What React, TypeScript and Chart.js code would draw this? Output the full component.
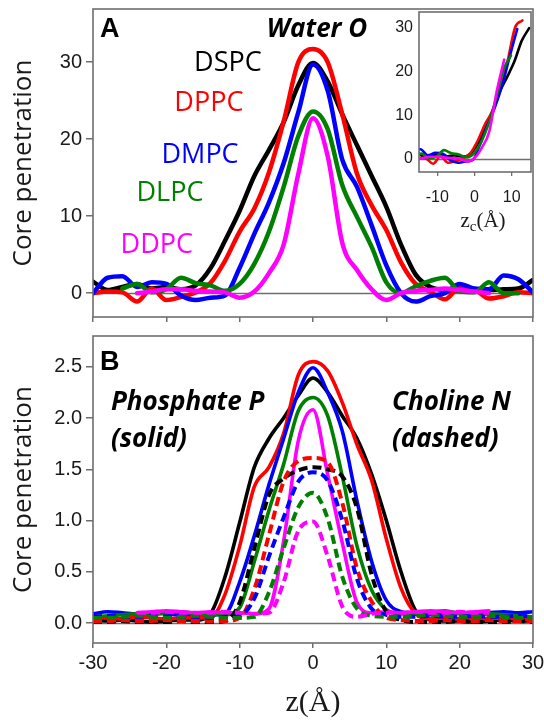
import React, { useEffect, useRef } from "react";
import { Chart, registerables } from "chart.js";

Chart.register(...registerables);

// Depth grid along the bilayer normal, z in Å
const zValues = [-30, -28, -26, -24, -22, -20, -18, -16, -14, -12, -10, -8, -6, -4, -2, 0, 2, 4, 6, 8, 10, 12, 14, 16, 18, 20, 22, 24, 26, 28, 30];

const lipids = ["DSPC", "DPPC", "DMPC", "DLPC", "DDPC"];
const lipidColors = ["#000000", "#ff0000", "#0000ff", "#008000", "#ff00ff"];

// Panel A: water oxygen core penetration
const waterDSPC = [1.5, 0.4, 0.8, 1.2, 0.6, 0.8, 0.5, 1.0, 3.2, 6.8, 10.7, 15.2, 18.6, 22.2, 27.0, 29.9, 27.5, 23.2, 19.2, 15.2, 11.2, 6.3, 2.4, 0.8, 0.4, 0.3, 0.5, 0.4, 0.5, 0.6, 1.7];
const waterDPPC = [0, 0.2, 0.1, -1.1, 0.6, -0.9, -0.5, 0.1, 1.3, 4.2, 8.0, 11.0, 15.7, 22.3, 30.0, 31.7, 30.0, 23.2, 15.5, 11.4, 8.2, 4.0, 1.2, 0.2, -0.8, 0.7, 0.5, -0.7, -0.4, 0.1, 0];
const waterDMPC = [0, 2.0, 2.2, 0.8, 1.4, 1.2, -0.3, -0.9, -0.6, -0.3, 3.3, 7.7, 11.8, 16.9, 23.5, 29.7, 26.3, 17.3, 13.8, 8.8, 3.6, 0, -1.1, -0.4, 0, 1.2, 0.6, 0.5, 2.3, 1.8, 0.1];
const waterDLPC = [null, null, 0.6, 1.2, 0.1, 0.5, 2.0, 1.3, 1.0, 0.3, 1.2, 3.8, 8.0, 13.8, 20.4, 23.6, 21.3, 14.0, 9.9, 6.0, 1.4, 0, 0.9, 1.6, 2.0, 0.2, 0.1, 1.4, 0, 0, null];
const waterDDPC = [null, null, null, 0.0, 0.2, 0.5, 0.5, 0.3, 0.2, 0.1, -0.6, 0.2, 2.6, 6.3, 15.5, 22.7, 17.8, 6.5, 3.0, 0.5, -0.9, 0, 0.3, 0.4, 0.6, 0.4, 0.2, 0.0, null, null, null];

// Panel B: phosphate P (solid)
const phosDSPC = [0.03, 0.02, 0.03, 0.02, 0.01, 0.02, 0.03, 0.03, 0.09, 0.45, 0.98, 1.52, 1.80, 2.00, 2.22, 2.39, 2.25, 2.02, 1.80, 1.45, 1.00, 0.50, 0.12, 0.03, 0.02, 0.02, 0.01, 0.02, 0.03, 0.02, 0.02];
const phosDPPC = [0.05, 0.05, 0.04, 0.06, 0.05, 0.04, 0.05, 0.05, 0.05, 0.28, 0.75, 1.33, 1.52, 1.85, 2.42, 2.55, 2.46, 2.15, 1.74, 1.39, 0.82, 0.34, 0.09, 0.04, 0.05, 0.04, 0.05, 0.04, 0.05, 0.04, 0.03];
const phosDMPC = [0.09, 0.11, 0.10, 0.09, 0.10, 0.09, 0.08, 0.09, 0.08, 0.09, 0.40, 0.85, 1.35, 1.80, 2.25, 2.49, 2.25, 1.87, 1.19, 0.60, 0.22, 0.11, 0.09, 0.08, 0.09, 0.10, 0.09, 0.10, 0.11, 0.10, 0.11];
const phosDLPC = [0.06, 0.07, 0.08, 0.09, 0.08, 0.10, 0.11, 0.09, 0.08, 0.08, 0.15, 0.60, 1.10, 1.55, 2.07, 2.20, 2.02, 1.43, 0.75, 0.32, 0.13, 0.09, 0.09, 0.10, 0.12, 0.09, 0.08, 0.09, 0.08, 0.07, 0.06];
const phosDDPC = [null, null, null, 0.10, 0.11, 0.12, 0.11, 0.10, 0.11, 0.10, 0.10, 0.09, 0.14, 0.80, 1.78, 2.08, 1.45, 0.78, 0.20, 0.10, 0.11, 0.10, 0.11, 0.12, 0.11, 0.10, 0.11, 0.12, null, null, null];

// Panel B: choline N (dashed)
const cholDSPC = [0.01, 0.01, 0.02, 0.01, 0.01, 0.01, 0.02, 0.01, 0.01, 0.02, 0.20, 0.73, 1.25, 1.41, 1.49, 1.52, 1.50, 1.43, 1.12, 0.47, 0.11, 0.03, 0.01, 0.01, 0.01, 0.02, 0.01, 0.01, 0.01, 0.02, 0.01];
const cholDPPC = [0.02, 0.02, 0.03, 0.02, 0.02, 0.03, 0.02, 0.02, 0.02, 0.02, 0.05, 0.33, 0.86, 1.38, 1.58, 1.61, 1.57, 1.17, 0.53, 0.21, 0.05, 0.03, 0.02, 0.02, 0.03, 0.02, 0.02, 0.03, 0.02, 0.02, 0.02];
const cholDMPC = [0.06, 0.07, 0.06, 0.06, 0.07, 0.06, 0.06, 0.06, 0.05, 0.06, 0.07, 0.24, 0.65, 1.03, 1.38, 1.47, 1.39, 1.00, 0.43, 0.14, 0.08, 0.06, 0.06, 0.07, 0.06, 0.06, 0.07, 0.06, 0.06, 0.07, 0.06];
const cholDLPC = [0.05, 0.05, 0.06, 0.07, 0.06, 0.05, 0.06, 0.07, 0.06, 0.05, 0.05, 0.06, 0.30, 0.73, 1.13, 1.27, 1.02, 0.45, 0.14, 0.07, 0.06, 0.06, 0.07, 0.08, 0.07, 0.06, 0.06, 0.07, 0.06, 0.05, 0.05];
const cholDDPC = [null, null, null, 0.10, 0.10, 0.11, 0.10, 0.10, 0.10, 0.11, 0.10, 0.09, 0.10, 0.40, 0.90, 0.99, 0.65, 0.16, 0.06, 0.09, 0.10, 0.10, 0.11, 0.10, 0.10, 0.11, 0.10, 0.10, null, null, null];

// Inset: rising half of each water profile re-centred on z_c (offset per lipid, Å)
const insetShift = [14.7, 12.9, 11.5, 9.8, 8.0];

const waterSeries = [waterDSPC, waterDPPC, waterDMPC, waterDLPC, waterDDPC];
const phosSeries = [phosDSPC, phosDPPC, phosDMPC, phosDLPC, phosDDPC];
const cholSeries = [cholDSPC, cholDPPC, cholDMPC, cholDLPC, cholDDPC];

const yTicksWater = [0, 10, 20, 30];
const yTicksHead = [0, 0.5, 1.0, 1.5, 2.0, 2.5];
const zTicks = [-30, -20, -10, 0, 10, 20, 30];
const zcTicks = [-10, 0, 10];

const FRAME = "#6e6e6e";
const INK = "#1a1a1a";
const SANS = '"Liberation Sans", Arial, sans-serif';
const HUMANIST = '"Open Sans", "Liberation Sans", sans-serif';
const SERIF = '"Liberation Serif", "Times New Roman", serif';

type Pt = { x: number; y: number };

function toPoints(vals: (number | null)[], shift = 0, risingOnly = false, minX = -Infinity): Pt[] {
  const out: Pt[] = [];
  zValues.forEach((z, i) => {
    const v = vals[i];
    if (v === null || v === undefined) return;
    if (risingOnly && z > 0) return;
    if (z + shift < minX) return;
    out.push({ x: z + shift, y: v });
  });
  return out;
}

function lineSet(label: string, data: Pt[], color: string, width: number, dashed: boolean, order: number) {
  return {
    label,
    data,
    borderColor: color,
    backgroundColor: color,
    borderWidth: width,
    borderDash: dashed ? [9, 5] : [],
    borderCapStyle: dashed ? "butt" : "round",
    borderJoinStyle: "round",
    pointRadius: 0,
    fill: false,
    tension: 0.35,
    cubicInterpolationMode: "monotone",
    order,
  };
}

function fixedBox(w?: number, h?: number) {
  return (scale: any) => {
    if (w !== undefined) scale.width = w;
    if (h !== undefined) scale.height = h;
    scale.paddingTop = 0;
    scale.paddingBottom = 0;
    scale.paddingLeft = 0;
    scale.paddingRight = 0;
  };
}

function setTicks(values: number[]) {
  return (scale: any) => {
    scale.ticks = values.map((v) => ({ value: v }));
  };
}

type Note = { text: string; x: number; y: number; color: string; font: string; align: CanvasTextAlign };

function decor(id: string, notes: Note[], extra?: (chart: any) => void, background?: string) {
  return {
    id,
    beforeDatasetsDraw(chart: any) {
      const { ctx, chartArea: a, scales } = chart;
      ctx.save();
      if (background) {
        ctx.fillStyle = background;
        ctx.fillRect(a.left, a.top, a.right - a.left, a.bottom - a.top);
      }
      const y0 = Math.round(scales.y.getPixelForValue(0)) + 0.5;
      ctx.strokeStyle = FRAME;
      ctx.lineWidth = 1.3;
      ctx.beginPath();
      ctx.moveTo(a.left, y0);
      ctx.lineTo(a.right, y0);
      ctx.stroke();
      ctx.restore();
    },
    afterDatasetsDraw(chart: any) {
      const { ctx, chartArea: a, scales } = chart;
      ctx.save();
      ctx.strokeStyle = FRAME;
      ctx.lineWidth = 1.6;
      ctx.strokeRect(a.left, a.top, a.right - a.left, a.bottom - a.top);
      ctx.textBaseline = "middle";
      for (const n of notes) {
        ctx.font = n.font;
        ctx.fillStyle = n.color;
        ctx.textAlign = n.align;
        ctx.fillText(n.text, scales.x.getPixelForValue(n.x), scales.y.getPixelForValue(n.y));
      }
      if (extra) extra(chart);
      ctx.restore();
    },
  };
}

const yTitle = {
  display: true,
  text: "Core penetration",
  color: INK,
  font: { family: HUMANIST, size: 26, lineHeight: 1.2 },
  padding: { top: 8, bottom: 0 },
};

function buildWater(canvas: HTMLCanvasElement) {
  const datasets = lipids.map((name, i) =>
    lineSet(name, toPoints(waterSeries[i]), lipidColors[i], 4.5, false, lipids.length - i)
  );
  const notes: Note[] = [
    { text: "A", x: -29.06, y: 34.2, color: "#000", font: `bold 27px ${SANS}`, align: "left" },
    { text: "Water O", x: 0.55, y: 34.2, color: "#000", font: `italic bold 26px ${HUMANIST}`, align: "center" },
    { text: "DSPC", x: -11.6, y: 29.9, color: lipidColors[0], font: `27px ${HUMANIST}`, align: "center" },
    { text: "DPPC", x: -14.2, y: 24.7, color: lipidColors[1], font: `27px ${HUMANIST}`, align: "center" },
    { text: "DMPC", x: -15.4, y: 17.9, color: lipidColors[2], font: `27px ${HUMANIST}`, align: "center" },
    { text: "DLPC", x: -19.5, y: 13.0, color: lipidColors[3], font: `27px ${HUMANIST}`, align: "center" },
    { text: "DDPC", x: -21.3, y: 6.2, color: lipidColors[4], font: `27px ${HUMANIST}`, align: "center" },
  ];
  return new Chart(canvas, {
    type: "line",
    data: { datasets: datasets as any },
    plugins: [decor("waterDecor", notes)],
    options: {
      animation: false,
      responsive: false,
      layout: { padding: { left: 0, right: 11, top: 9, bottom: 0 } },
      plugins: { legend: { display: false }, tooltip: { enabled: false } },
      scales: {
        x: {
          type: "linear",
          min: -30,
          max: 30,
          afterBuildTicks: setTicks(zTicks),
          afterFit: fixedBox(undefined, 5),
          ticks: { display: false },
          grid: { display: true, drawOnChartArea: false, drawTicks: true, tickLength: 5, color: FRAME, lineWidth: 1.5 },
          border: { display: false },
        },
        y: {
          type: "linear",
          min: -3.1,
          max: 36.9,
          afterBuildTicks: setTicks(yTicksWater),
          afterFit: fixedBox(93, undefined),
          ticks: { color: INK, padding: 4, font: { family: SANS, size: 20 }, callback: (v: any) => String(v) },
          grid: { display: true, drawOnChartArea: false, drawTicks: true, tickLength: 7, color: FRAME, lineWidth: 1.5 },
          border: { display: false },
          title: yTitle as any,
        },
      },
    },
  });
}

function buildInset(canvas: HTMLCanvasElement) {
  const datasets = lipids.map((name, i) =>
    lineSet(name, toPoints(waterSeries[i], insetShift[i], true, -17), lipidColors[i], 2.6, false, lipids.length - i)
  );
  const drawAxisName = (chart: any) => {
    const { ctx, chartArea: a } = chart;
    const cx = (a.left + a.right) / 2 + 8;
    const cy = 220;
    const big = `21px ${SERIF}`;
    const small = `15px ${SERIF}`;
    ctx.font = big;
    const wz = ctx.measureText("z").width;
    const wRest = ctx.measureText("(Å)").width;
    ctx.font = small;
    const wc = ctx.measureText("c").width;
    let x = cx - (wz + wc + wRest) / 2;
    ctx.fillStyle = INK;
    ctx.textAlign = "left";
    ctx.textBaseline = "alphabetic";
    const base = cy + 7;
    ctx.font = big;
    ctx.fillText("z", x, base);
    x += wz;
    ctx.font = small;
    ctx.fillText("c", x, base + 4);
    x += wc;
    ctx.font = big;
    ctx.fillText("(Å)", x, base);
  };
  return new Chart(canvas, {
    type: "line",
    data: { datasets: datasets as any },
    plugins: [decor("insetDecor", [], drawAxisName, "#ffffff")],
    options: {
      animation: false,
      responsive: false,
      layout: { padding: { left: 0, right: 13, top: 12, bottom: 0 } },
      plugins: { legend: { display: false }, tooltip: { enabled: false } },
      scales: {
        x: {
          type: "linear",
          min: -14.9,
          max: 15.2,
          afterBuildTicks: setTicks(zcTicks),
          afterFit: fixedBox(undefined, 63),
          ticks: { color: INK, padding: 12, font: { family: SANS, size: 16 }, callback: (v: any) => String(v) },
          grid: { display: true, drawOnChartArea: false, drawTicks: true, tickLength: 4, color: FRAME, lineWidth: 1.3 },
          border: { display: false },
        },
        y: {
          type: "linear",
          min: -3.0,
          max: 33.6,
          afterBuildTicks: setTicks(yTicksWater),
          afterFit: fixedBox(39, undefined),
          ticks: { color: INK, padding: 6, font: { family: SANS, size: 16 }, callback: (v: any) => String(v) },
          grid: { display: false, drawTicks: false },
          border: { display: false },
        },
      },
    },
  });
}

function buildHead(canvas: HTMLCanvasElement) {
  const solid = lipids.map((name, i) =>
    lineSet(`${name} P`, toPoints(phosSeries[i]), lipidColors[i], 3.6, false, 20 - i)
  );
  const dashed = lipids.map((name, i) =>
    lineSet(`${name} N`, toPoints(cholSeries[i]), lipidColors[i], 4, true, 10 - i)
  );
  const headFont = `italic bold 26px ${HUMANIST}`;
  const notes: Note[] = [
    { text: "B", x: -29.06, y: 2.54, color: "#000", font: `bold 27px ${SANS}`, align: "left" },
    { text: "Phosphate P", x: -27.56, y: 2.15, color: "#000", font: headFont, align: "left" },
    { text: "(solid)", x: -27.56, y: 1.79, color: "#000", font: headFont, align: "left" },
    { text: "Choline N", x: 10.78, y: 2.15, color: "#000", font: headFont, align: "left" },
    { text: "(dashed)", x: 10.78, y: 1.79, color: "#000", font: headFont, align: "left" },
  ];
  return new Chart(canvas, {
    type: "line",
    data: { datasets: [...solid, ...dashed] as any },
    plugins: [decor("headDecor", notes)],
    options: {
      animation: false,
      responsive: false,
      layout: { padding: { left: 0, right: 11, top: 14, bottom: 0 } },
      plugins: { legend: { display: false }, tooltip: { enabled: false } },
      scales: {
        x: {
          type: "linear",
          min: -30,
          max: 30,
          afterBuildTicks: setTicks(zTicks),
          afterFit: fixedBox(undefined, 79),
          ticks: { color: INK, padding: 3, font: { family: SANS, size: 20 }, callback: (v: any) => String(v) },
          grid: { display: true, drawOnChartArea: false, drawTicks: true, tickLength: 5, color: FRAME, lineWidth: 1.5 },
          border: { display: false },
          title: {
            display: true,
            text: "z(Å)",
            color: INK,
            font: { family: SERIF, size: 30, lineHeight: 1.2 },
            padding: { top: 0, bottom: 1 },
          },
        },
        y: {
          type: "linear",
          min: -0.195,
          max: 2.8,
          afterBuildTicks: setTicks(yTicksHead),
          afterFit: fixedBox(93, undefined),
          ticks: { color: INK, padding: 4, font: { family: SANS, size: 20 }, callback: (v: any) => Number(v).toFixed(1) },
          grid: { display: true, drawOnChartArea: false, drawTicks: true, tickLength: 7, color: FRAME, lineWidth: 1.5 },
          border: { display: false },
          title: yTitle as any,
        },
      },
    },
  });
}

export default function App() {
  const waterRef = useRef<HTMLCanvasElement | null>(null);
  const insetRef = useRef<HTMLCanvasElement | null>(null);
  const headRef = useRef<HTMLCanvasElement | null>(null);

  useEffect(() => {
    const charts: Chart[] = [];
    if (waterRef.current) charts.push(buildWater(waterRef.current));
    if (headRef.current) charts.push(buildHead(headRef.current));
    if (insetRef.current) charts.push(buildInset(insetRef.current));
    return () => charts.forEach((c) => c.destroy());
  }, []);

  return (
    <div style={{ position: "absolute", left: 0, top: 0, width: 544, height: 722, background: "#ffffff" }}>
      <canvas ref={waterRef} width={544} height={322} style={{ position: "absolute", left: 0, top: 0 }} />
      <canvas ref={headRef} width={544} height={400} style={{ position: "absolute", left: 0, top: 322 }} />
      <canvas ref={insetRef} width={164} height={235} style={{ position: "absolute", left: 380, top: 0 }} />
    </div>
  );
}
